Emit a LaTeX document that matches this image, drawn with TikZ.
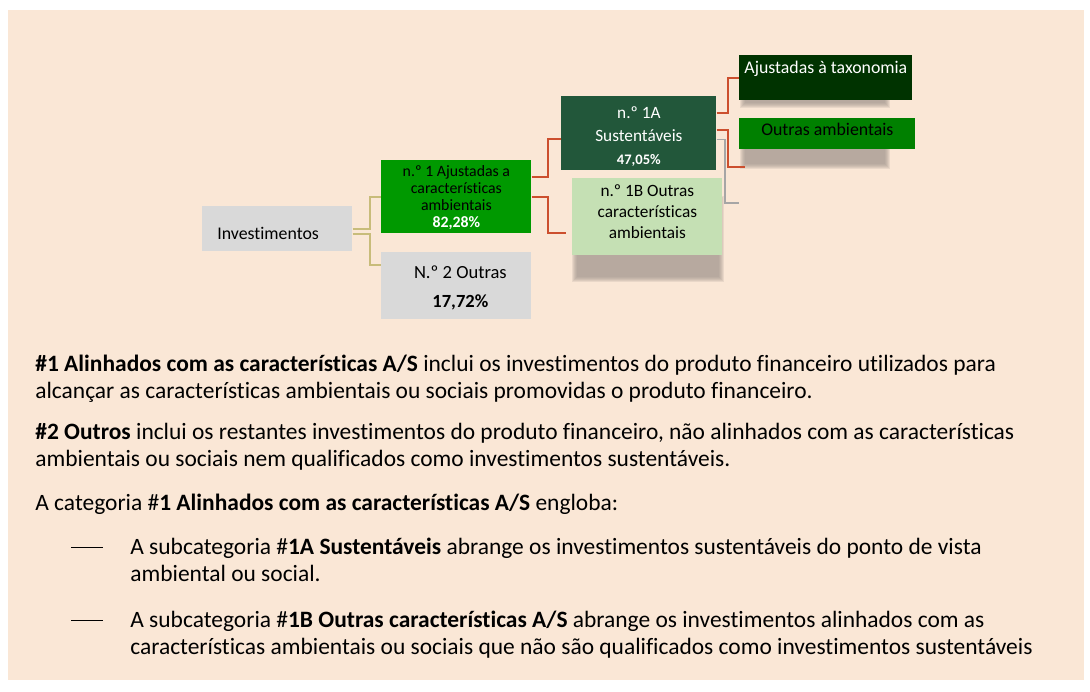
\documentclass[tikz,border=0pt]{standalone}
\usepackage{fontspec}
\setmainfont{Carlito}[Ligatures=NoCommon]
\usetikzlibrary{positioning}
\usetikzlibrary{calc}

\definecolor{peach}{HTML}{FAE7D6}
\definecolor{boxgray}{HTML}{D9D9D9}
\definecolor{midgreen}{HTML}{009900}
\definecolor{darkgreen}{HTML}{22573A}
\definecolor{palegreen}{HTML}{C5E0B4}
\definecolor{deepgreen}{HTML}{003300}
\definecolor{plaingreen}{HTML}{008000}
\definecolor{linkred}{HTML}{CC4F2E}
\definecolor{linktan}{HTML}{C8BC7A}
\definecolor{shadowgray}{HTML}{9C9289}

\newlength\pxu
\setlength\pxu{0.55pt}
\newcommand\boxlines[2]{\raisebox{0pt}[\dimexpr\height-#1\relax][\dimexpr\depth+#1\relax]{\begin{tabular}{@{}c@{}}#2\end{tabular}}}
\newcommand\softshadow[4]{\foreach \k in {0,...,5} \fill[shadowgray,opacity=0.18] (#1+\k,#2+\k) rectangle (#3-\k,#4-\k);}

\tikzset{
  box/.style={anchor=north west, inner sep=0pt},
  tanlink/.style={draw=linktan, line width=1.6\pxu},
  redlink/.style={draw=linkred, line width=2\pxu},
  graylink/.style={draw=black!35, line width=1.6\pxu},
  bodyline/.style={anchor=base west, inner sep=0pt, font=\fontsize{12.9}{15.5}\selectfont},
  dashmark/.style={anchor=west, inner sep=0pt},
}

\begin{document}
\begin{tikzpicture}[x=\pxu, y=-\pxu]
  \useasboundingbox (0,0) rectangle (1090,691);
  \fill[white] (0,0) rectangle (1090,691);
  \fill[peach] (8,10) rectangle (1084,680);

  \softshadow{572}{196}{724}{282}
  \softshadow{740}{126}{890}{169}
  \softshadow{740}{62}{890}{108}

  \node[box, fill=boxgray, minimum width=150\pxu, text height=33\pxu, text depth=12\pxu,
        font=\fontsize{9.8}{12}\selectfont] (inv) at (202,206) {\makebox[120\pxu][l]{Investimentos}};
  \node[box, fill=midgreen, minimum width=150\pxu, minimum height=73\pxu,
        font=\fontsize{8.7}{9.35}\selectfont] (n1) at (381,160)
        {\boxlines{-1.5\pxu}{n.º 1 Ajustadas a\\características\\ambientais\\\textcolor{white}{\bfseries 82,28\%}}};
  \node[box, fill=boxgray, minimum width=150\pxu, minimum height=67\pxu,
        font=\fontsize{10.2}{16}\selectfont] (n2) at (381,252)
        {\hspace*{8\pxu}\boxlines{-1\pxu}{N.º 2 Outras\\{\bfseries 17,72\%}}};
  \node[box, fill=darkgreen, text=white, minimum width=155\pxu, minimum height=74\pxu,
        font=\fontsize{9.5}{12.65}\selectfont] (sust) at (561,96)
        {\boxlines{-3.5\pxu}{n.º 1A\\Sustentáveis\\{\fontsize{8}{12.65}\bfseries 47,05\%}}};
  \node[box, fill=palegreen, minimum width=150\pxu, minimum height=77\pxu,
        font=\fontsize{9.5}{11.55}\selectfont] (outc) at (572,178)
        {\boxlines{4\pxu}{n.º 1B Outras\\características\\ambientais}};
  \node[box, fill=deepgreen, text=white, minimum width=173\pxu, text height=18\pxu, text depth=27\pxu,
        font=\fontsize{9.8}{12}\selectfont] (taxo) at (739,55) {Ajustadas à taxonomia};
  \node[box, fill=plaingreen, minimum width=176\pxu, text height=17\pxu, text depth=14\pxu,
        font=\fontsize{9.8}{12}\selectfont] (amb) at (739,118) {Outras ambientais};

  \coordinate (ambend) at (745,167);
  \coordinate (greyend) at (739,203);

  \draw[tanlink] (inv.east) -- ++(17,0) |- (n1.west);
  \draw[tanlink] ([yshift=-5\pxu]inv.east) -- ++(17,0) |- ([yshift=-13\pxu]n2.north west);
  \draw[redlink] ([yshift=20\pxu]n1.east) -- ++(16,0) |- ([yshift=-6\pxu]sust.west);
  \draw[redlink] (n1.east) -- ++(16,0) |- ([xshift=-6\pxu,yshift=-16.5\pxu]outc.west);
  \draw[redlink] ([yshift=20\pxu]sust.east) -- ++(11,0) |- (taxo.west);
  \draw[redlink] ([yshift=3\pxu]sust.east) -- ++(11,0) |- (ambend);
  \draw[graylink] ([yshift=-6\pxu]sust.east) -- ++(8,0) |- (greyend);

  \node[bodyline] (p1a) at (35,371.5) {\textbf{\#1 Alinhados com as características A/S} inclui os investimentos do produto financeiro utilizados para};
  \node[bodyline] (p1b) at (35,398.5) {alcançar as características ambientais ou sociais promovidas o produto financeiro.};
  \node[bodyline] (p2a) at (35,439) {\textbf{\#2 Outros} inclui os restantes investimentos do produto financeiro, não alinhados com as características};
  \node[bodyline] (p2b) at (35,466) {ambientais ou sociais nem qualificados como investimentos sustentáveis.};
  \node[bodyline] (p3) at (35,510) {A categoria \#\textbf{1 Alinhados com as características A/S} engloba:};
  \node[dashmark] (d1) at (71,547) {\rule{32\pxu}{0.8\pxu}};
  \node[bodyline] (b1a) at (130,554) {A subcategoria \#\textbf{1A Sustentáveis} abrange os investimentos sustentáveis do ponto de vista};
  \node[bodyline] (b1b) at (130,581) {ambiental ou social.};
  \node[dashmark] (d2) at (71,620) {\rule{32\pxu}{0.8\pxu}};
  \node[bodyline] (b2a) at (130,627) {A subcategoria \#\textbf{1B Outras características A/S} abrange os investimentos alinhados com as};
  \node[bodyline] (b2b) at (130,654) {características ambientais ou sociais que não são qualificados como investimentos sustentáveis};
\end{tikzpicture}
\end{document}
